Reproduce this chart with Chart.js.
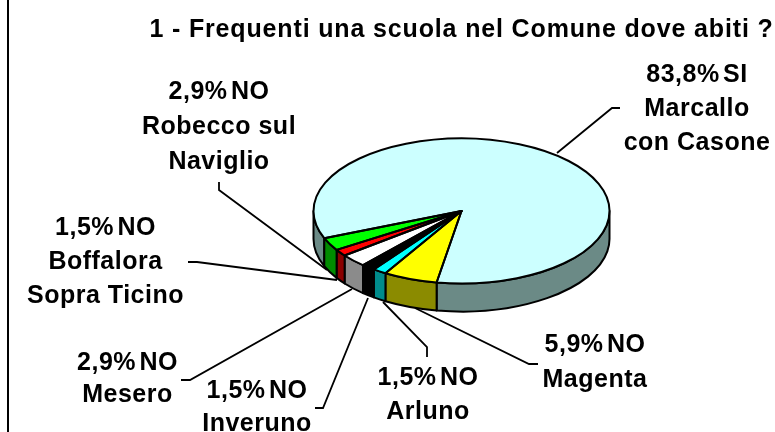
<!DOCTYPE html>
<html>
<head>
<meta charset="utf-8">
<style>
  html, body { margin: 0; background: #fff; }
  canvas { display: block; }
</style>
<script src="https://cdn.jsdelivr.net/npm/chart.js@4/dist/chart.umd.min.js"></script>
</head>
<body>
<canvas id="mainChart" width="775" height="432"></canvas>
<script>
var titleText = '1 - Frequenti una scuola nel Comune dove abiti ?';
var categories = ['Marcallo con Casone', 'Magenta', 'Arluno', 'Inveruno', 'Mesero', 'Boffalora Sopra Ticino', 'Robecco sul Naviglio'];
var values = [83.8, 5.9, 1.5, 1.5, 2.9, 1.5, 2.9];
var labelLines = [
  ['83,8% SI', 'Marcallo', 'con Casone'],
  ['5,9% NO', 'Magenta'],
  ['1,5% NO', 'Arluno'],
  ['1,5% NO', 'Inveruno'],
  ['2,9% NO', 'Mesero'],
  ['1,5% NO', 'Boffalora', 'Sopra Ticino'],
  ['2,9% NO', 'Robecco sul', 'Naviglio']
];
var topColors = ['#ccffff', '#ffff00', '#00ffff', '#000000', '#ffffff', '#ff0000', '#00ff00'];
var sideColors = ['#6b8a86', '#8b8b00', '#008b8b', '#000000', '#8b8b8b', '#8b0000', '#008b00'];

// where each callout sits: text centre x, first line centre y, line step, leader polyline
var callouts = [
  { x: 697, y: 75, step: 34, line: [[620, 108], [612, 108], [557, 153]] },
  { x: 595, y: 345, step: 35, line: [[538, 364], [529, 364], [415, 308]] },
  { x: 428, y: 378, step: 34, line: [[427, 357], [427, 347], [383, 302]] },
  { x: 257, y: 391, step: 33, line: [[315, 408], [323, 408], [368, 298]] },
  { x: 127.5, y: 363, step: 32, line: [[181, 380], [190, 380], [352, 289]] },
  { x: 105.5, y: 228, step: 34, line: [[188, 262], [197, 262], [337, 280]] },
  { x: 219, y: 92, step: 35, line: [[219, 182], [219, 190], [327, 270]] }
];

var tilt = 0.49;
var depth = 28;

function sidePiece (ctx, arc, from, to, color) {
  ctx.beginPath();
  ctx.ellipse(arc.x, arc.y, arc.outerRadius, arc.outerRadius * tilt, 0, from, to);
  ctx.ellipse(arc.x, arc.y + depth, arc.outerRadius, arc.outerRadius * tilt, 0, to, from, true);
  ctx.closePath();
  ctx.fillStyle = color;
  ctx.fill();
  ctx.stroke();
}

var pie3d = {
  id: 'pie3d',
  beforeDraw: function (chart) {
    chart.ctx.letterSpacing = '0.85px';
  },
  beforeDatasetsDraw: function (chart) {
    var ctx = chart.ctx,
      arcs = chart.getDatasetMeta(0).data;
    ctx.save();
    ctx.strokeStyle = '#000';
    ctx.lineWidth = 2;
    ctx.lineJoin = 'round';
    arcs.forEach(function (arc, i) {
      // only the part of the rim facing the viewer, canvas angles 0..PI
      [0, Math.PI * 2].forEach(function (base) {
        var from = Math.max(arc.startAngle, base),
          to = Math.min(arc.endAngle, base + Math.PI);
        if (to > from) {
          sidePiece(ctx, arc, from, to, sideColors[i]);
        }
      });
    });
    ctx.restore();

    var c = arcs[0];
    ctx.save();
    ctx.translate(c.x, c.y);
    ctx.scale(1, tilt);
    ctx.translate(-c.x, -c.y);
  },
  afterDatasetsDraw: function (chart) {
    var ctx = chart.ctx;
    ctx.restore();
    ctx.save();
    ctx.strokeStyle = '#000';
    ctx.lineWidth = 2;
    ctx.lineJoin = 'round';
    chart.getDatasetMeta(0).data.forEach(function (arc) {
      ctx.beginPath();
      ctx.moveTo(arc.x, arc.y);
      ctx.ellipse(arc.x, arc.y, arc.outerRadius, arc.outerRadius * tilt, 0, arc.startAngle, arc.endAngle);
      ctx.closePath();
      ctx.stroke();
    });
    ctx.restore();
  },
  afterDraw: function (chart) {
    var ctx = chart.ctx;
    ctx.save();
    // frame line down the left edge
    ctx.strokeStyle = '#000';
    ctx.lineWidth = 2;
    ctx.beginPath();
    ctx.moveTo(8, 0);
    ctx.lineTo(8, 432);
    ctx.stroke();

    ctx.lineWidth = 1.8;
    callouts.forEach(function (c) {
      ctx.beginPath();
      c.line.forEach(function (p, i) {
        if (i === 0) {
          ctx.moveTo(p[0], p[1]);
        } else {
          ctx.lineTo(p[0], p[1]);
        }
      });
      ctx.stroke();
    });

    ctx.fillStyle = '#000';
    ctx.font = 'bold 25px "Liberation Sans"';
    ctx.textAlign = 'center';
    ctx.textBaseline = 'middle';
    ctx.letterSpacing = '0.5px';
    labelLines.forEach(function (lines, i) {
      lines.forEach(function (text, j) {
        // the percent lines have a tight gap in the original
        ctx.wordSpacing = text.indexOf('%') >= 0 ? '-4px' : '0px';
        ctx.fillText(text, callouts[i].x, callouts[i].y + j * callouts[i].step);
      });
    });
    ctx.restore();
  }
};

new Chart(document.getElementById('mainChart'), {
  type: 'pie',
  data: {
    labels: categories,
    datasets: [{
      data: values,
      backgroundColor: topColors,
      borderWidth: 0,
      clip: false
    }]
  },
  options: {
    responsive: false,
    animation: false,
    rotation: 248,
    layout: {
      padding: { left: 148, right: 0, top: 0, bottom: 73 }
    },
    plugins: {
      legend: { display: false },
      tooltip: { enabled: false },
      title: {
        display: true,
        text: titleText,
        color: '#000',
        font: { family: '"Liberation Sans"', size: 25, weight: 'bold' },
        padding: { top: 15, bottom: 18 }
      }
    }
  },
  plugins: [pie3d]
});
</script>
</body>
</html>
